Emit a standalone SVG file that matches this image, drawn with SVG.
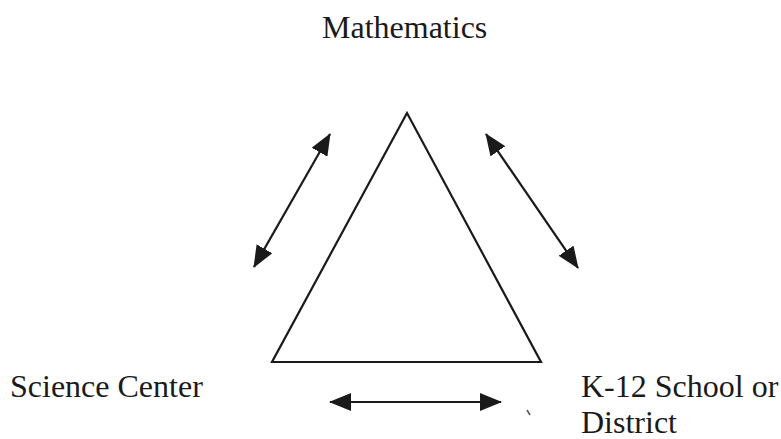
<svg xmlns="http://www.w3.org/2000/svg" width="781" height="439" viewBox="0 0 781 439">
<style>
.lbl{font-family:"Liberation Serif","Times New Roman",serif;font-size:32px;fill:#1a1a1a}
.con{stroke:#1a1a1a;stroke-width:2.2;fill:none}
.tri{stroke:#1a1a1a;stroke-width:2.2;fill:#fff}
</style>
<defs>
<marker id="ah" viewBox="0 0 22 18" refX="21" refY="9" markerWidth="22" markerHeight="18" markerUnits="userSpaceOnUse" orient="auto-start-reverse">
<path d="M0,0 L22,9 L0,18 Z" fill="#1a1a1a"/>
</marker>
</defs>
<rect width="781" height="439" fill="#fff"/>
<g id="triangle"><polygon class="tri" points="407,113 272,362 541,362"/></g>
<g id="mathematics"><text class="lbl" x="322" y="38">Mathematics</text></g>
<g id="science-center"><text class="lbl" x="10" y="397">Science Center</text></g>
<g id="k12"><text class="lbl" x="581" y="397">K-12 School or</text><text class="lbl" x="581" y="433">District</text></g>
<g id="connectors">
<line class="con" x1="330" y1="134" x2="254" y2="267" marker-start="url(#ah)" marker-end="url(#ah)"/>
<line class="con" x1="486" y1="134" x2="578" y2="268" marker-start="url(#ah)" marker-end="url(#ah)"/>
<line class="con" x1="330" y1="402" x2="501" y2="402" marker-start="url(#ah)" marker-end="url(#ah)"/>
</g>
<line x1="527" y1="410" x2="530" y2="415" stroke="#555" stroke-width="1.5"/>
</svg>
